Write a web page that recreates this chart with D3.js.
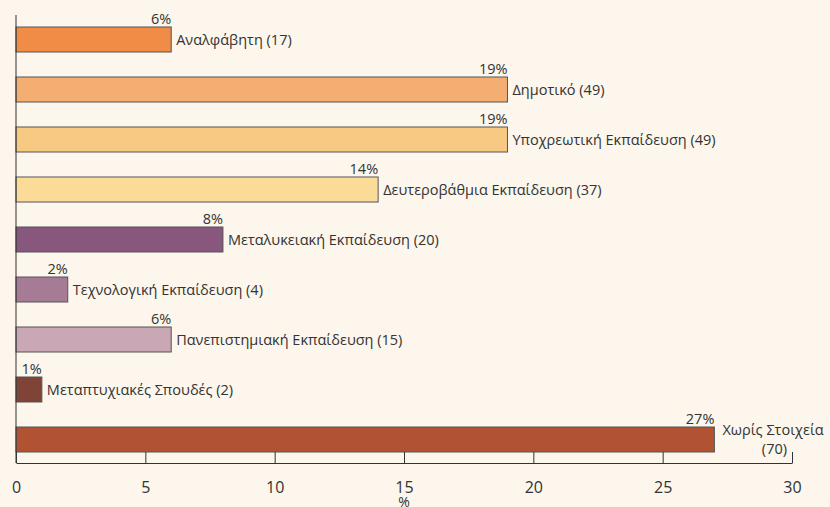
<!DOCTYPE html>
<html lang="el">
<head>
<meta charset="UTF-8">
<title>Εκπαίδευση</title>
<script src="https://d3js.org/d3.v7.min.js"></script>
<style>
    body { margin: 0; padding: 0; background-color: #fcf6ec; overflow: hidden; }
    svg { display: block; }
    text { font-family: "Open Sans", sans-serif; fill: #333; }
</style>
</head>
<body>
<svg width="830" height="507"></svg>
<script>
    // data
    const categories = ["Αναλφάβητη (17)", "Δημοτικό (49)", "Υποχρεωτική Εκπαίδευση (49)",
        "Δευτεροβάθμια Εκπαίδευση (37)", "Μεταλυκειακή Εκπαίδευση (20)", "Τεχνολογική Εκπαίδευση (4)",
        "Πανεπιστημιακή Εκπαίδευση (15)", "Μεταπτυχιακές Σπουδές (2)", "Χωρίς Στοιχεία (70)"];
    const percents = [6, 19, 19, 14, 8, 2, 6, 1, 27];
    const barColors = ["#f08c45", "#f4ae72", "#f8c983", "#fadc98", "#87577e", "#a57b95",
        "#c9a7b4", "#7f4337", "#b15233"];
    const xTicks = [0, 5, 10, 15, 20, 25, 30];

    const svg = d3.select("svg");

    const x = d3.scaleLinear().domain([0, 30]).range([16, 792]);
    const y = d3.scaleBand().domain(categories).range([14.5, 464.5])
        .paddingInner(0.5).paddingOuter(0.25);

    const axisY = 463;

    // bars
    svg.append("g").selectAll("rect")
        .data(categories)
        .join("rect")
        .attr("x", x(0))
        .attr("y", d => y(d))
        .attr("width", (d, i) => x(percents[i]) - x(0))
        .attr("height", y.bandwidth())
        .attr("fill", (d, i) => barColors[i])
        .attr("stroke", "#555")
        .attr("stroke-width", 1);

    // percent labels
    svg.append("g").selectAll("text")
        .data(categories)
        .join("text")
        .attr("x", (d, i) => x(percents[i]))
        .attr("y", d => y(d) - 3)
        .attr("text-anchor", "end")
        .attr("font-size", 14.5)
        .text((d, i) => percents[i] + "%");

    // category labels
    const last = categories.length - 1;
    svg.append("g").selectAll("text")
        .data(categories.slice(0, last))
        .join("text")
        .attr("x", (d, i) => x(percents[i]) + 5)
        .attr("y", d => y(d) + y.bandwidth() / 2 + 5.5)
        .attr("font-size", 14.5)
        .text(d => d);

    // last label split over two lines
    const lastParts = categories[last].match(/^(.*) (\(\d+\))$/);
    svg.append("text")
        .attr("x", x(percents[last]) + 8)
        .attr("y", y(categories[last]) + 8)
        .attr("font-size", 14.5)
        .text(lastParts[1]);
    svg.append("text")
        .attr("x", x(30) - 5)
        .attr("y", y(categories[last]) + 27)
        .attr("text-anchor", "end")
        .attr("font-size", 14.5)
        .text(lastParts[2]);

    // axes
    svg.append("line")
        .attr("x1", x(0)).attr("x2", x(0))
        .attr("y1", 15).attr("y2", axisY)
        .attr("stroke", "#333");

    const xAxis = d3.axisBottom(x)
        .tickValues(xTicks)
        .tickSize(-11)
        .tickPadding(19)
        .tickSizeOuter(0);

    const gx = svg.append("g")
        .attr("transform", `translate(0,${axisY})`)
        .call(xAxis);
    gx.select(".domain").attr("stroke", "#333");
    gx.selectAll(".tick line").attr("stroke", "#333");
    gx.selectAll(".tick text")
        .attr("font-size", 16)
        .attr("font-family", "Open Sans, sans-serif")
        .attr("fill", "#333");

    svg.append("text")
        .attr("x", x(15))
        .attr("y", 507)
        .attr("text-anchor", "middle")
        .attr("font-size", 14)
        .text("%");
</script>
</body>
</html>
